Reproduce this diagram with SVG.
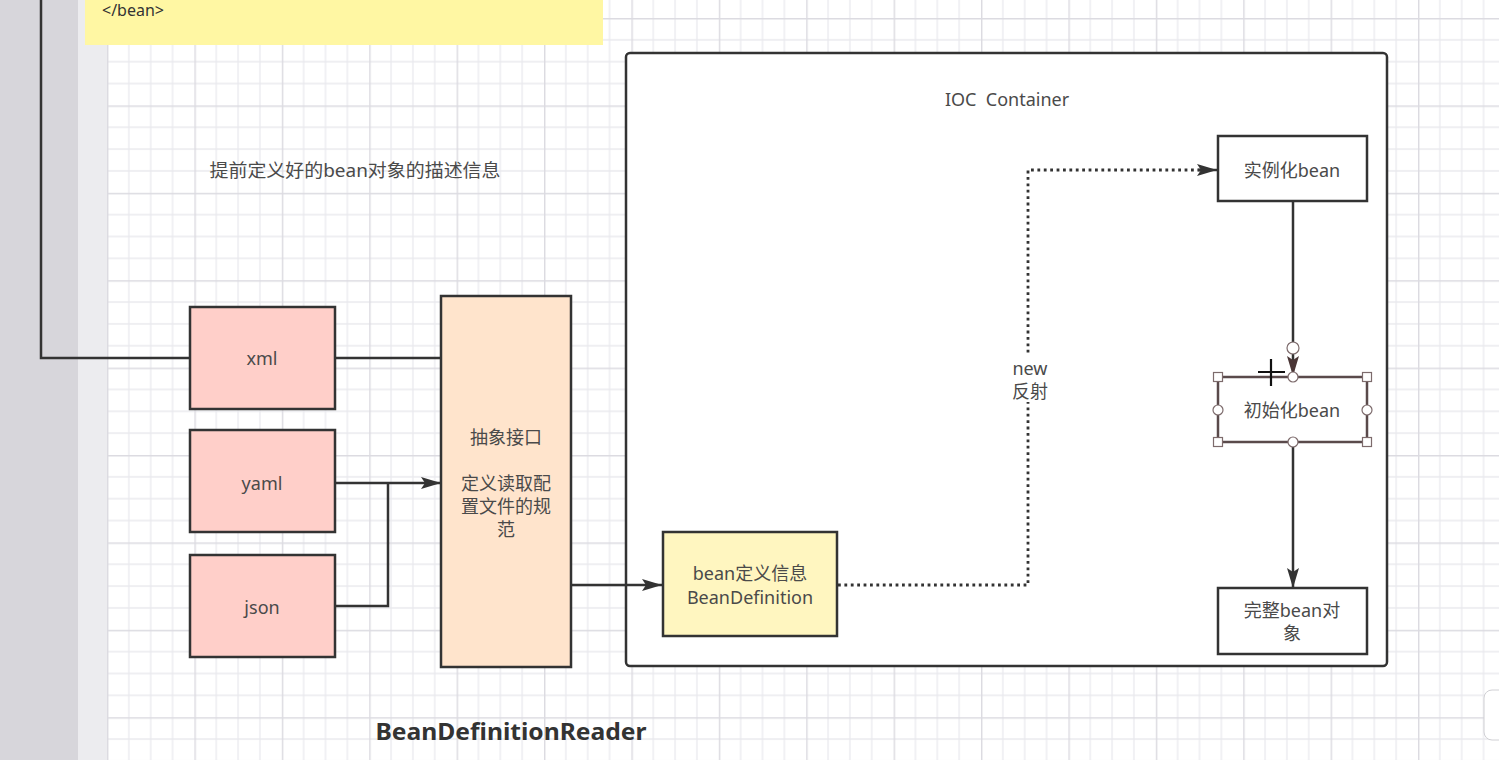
<svg xmlns="http://www.w3.org/2000/svg" width="1499" height="760" viewBox="0 0 1499 760">
<style>
.t{font-family:"Noto Sans","Noto Sans CJK SC",sans-serif;font-size:18px;fill:#4a4a4a;text-anchor:middle;dominant-baseline:central}
.box{stroke:#333;stroke-width:2.5}
.ln{fill:none;stroke:#333;stroke-width:2.5}
.dot{fill:none;stroke:#333;stroke-width:2.8;stroke-dasharray:2.8 3.6}
.hs{fill:#fff;stroke:#7d6b6c;stroke-width:1.2}
</style>
<defs>
<pattern id="g" x="107" y="18" width="87.4" height="87.4" patternUnits="userSpaceOnUse">
<path d="M21.85 0V87.4M43.7 0V87.4M65.55 0V87.4M0 21.85H87.4M0 43.7H87.4M0 65.55H87.4" stroke="#eaeaee" stroke-width="1.3" fill="none"/>
<path d="M0.7 0V87.4M0 0.7H87.4" stroke="#dcdbe1" stroke-width="1.5" fill="none"/>
</pattern>
<marker id="a" markerUnits="userSpaceOnUse" markerWidth="20" markerHeight="14" viewBox="0 0 20 14" refX="20" refY="7" orient="auto">
<path d="M0 1L20 7L0 13L4 7z" fill="#333"/>
</marker>
<marker id="a2" markerUnits="userSpaceOnUse" markerWidth="20" markerHeight="14" viewBox="0 0 20 14" refX="20" refY="7" orient="auto">
<path d="M0 1L20 7L0 13L4 7z" fill="#4a3636"/>
</marker>
</defs>
<rect width="1499" height="760" fill="#fff"/>
<rect x="107" y="0" width="1392" height="760" fill="url(#g)"/>
<rect x="0" y="0" width="78" height="760" fill="#d7d6db"/>
<rect x="78" y="0" width="29" height="760" fill="#ececef"/>
<g id="note">
<rect x="85" y="-5" width="518" height="50" fill="#fff7a3"/>
<text x="102" y="10" class="t" style="text-anchor:start;fill:#333;font-size:16px">&lt;/bean&gt;</text>
</g>
<g id="desc"><text x="355" y="170" class="t" textLength="291" lengthAdjust="spacingAndGlyphs">提前定义好的bean对象的描述信息</text></g>
<g id="reader-label"><text x="511" y="731" class="t" style="font-size:23px;font-weight:bold;fill:#333" textLength="271" lengthAdjust="spacingAndGlyphs">BeanDefinitionReader</text></g>
<g id="ioc">
<rect x="626" y="53" width="761" height="613" rx="4" fill="#fff" class="box"/>
<text x="1007" y="99" class="t" xml:space="preserve">IOC  Container</text>
</g>
<g id="connectors">
<path class="ln" d="M41 0V358H190"/>
<path class="ln" d="M335 358H441"/>
<path class="ln" d="M335 483H441" marker-end="url(#a)"/>
<path class="ln" d="M335 606H388V483"/>
<path class="ln" d="M571 585H662" marker-end="url(#a)"/>
<path class="dot" d="M838 585H1028V170H1200"/>
<path class="ln" d="M1198 170H1217" marker-end="url(#a)"/>
<path class="ln" d="M1293 201V376" marker-end="url(#a2)"/>
<path class="ln" d="M1293 442V588" marker-end="url(#a)"/>
<rect x="1008" y="356" width="44" height="46" fill="#fff"/>
<text x="1030" y="368" class="t">new</text>
<text x="1030" y="391" class="t">反射</text>
</g>
<g id="xml"><rect x="190" y="307" width="145" height="102" fill="#ffcfc9" class="box"/><text x="262" y="358" class="t">xml</text></g>
<g id="yaml"><rect x="190" y="430" width="145" height="102" fill="#ffcfc9" class="box"/><text x="262" y="483" class="t">yaml</text></g>
<g id="json"><rect x="190" y="555" width="145" height="102" fill="#ffcfc9" class="box"/><text x="262" y="607" class="t">json</text></g>
<g id="reader">
<rect x="441" y="296" width="130" height="371" fill="#ffe4cc" class="box"/>
<text x="506" y="437" class="t">抽象接口</text>
<text x="506" y="483" class="t">定义读取配</text>
<text x="506" y="506" class="t">置文件的规</text>
<text x="506" y="529" class="t">范</text>
</g>
<g id="beandef">
<rect x="663" y="532" width="174" height="104" fill="#fff6c0" class="box"/>
<text x="750" y="573" class="t">bean定义信息</text>
<text x="750" y="597" class="t">BeanDefinition</text>
</g>
<g id="inst"><rect x="1218" y="136" width="149" height="65" fill="#fff" class="box"/><text x="1292" y="170" class="t">实例化bean</text></g>
<g id="init">
<rect x="1218" y="377" width="149" height="65" fill="#fff" stroke="#5a4a4b" stroke-width="2.5"/>
<text x="1292" y="410" class="t">初始化bean</text>
<rect x="1213.5" y="372.5" width="9" height="9" class="hs"/>
<rect x="1362.5" y="372.5" width="9" height="9" class="hs"/>
<rect x="1213.5" y="437.5" width="9" height="9" class="hs"/>
<rect x="1362.5" y="437.5" width="9" height="9" class="hs"/>
<circle cx="1293" cy="377" r="5" class="hs"/>
<circle cx="1218" cy="410" r="5" class="hs"/>
<circle cx="1367" cy="410" r="5" class="hs"/>
<circle cx="1293" cy="442" r="5" class="hs"/>
<circle cx="1293" cy="348" r="6" class="hs"/>
<path d="M1258 372H1285M1271 359V386" stroke="#111" stroke-width="2.2"/>
</g>
<g id="full">
<rect x="1218" y="588" width="149" height="66" fill="#fff" class="box"/>
<text x="1292" y="610" class="t">完整bean对</text>
<text x="1292" y="633" class="t">象</text>
</g>
<rect x="1484" y="690" width="30" height="50" rx="8" fill="#fff" stroke="#d0d0d4" stroke-width="1"/>
</svg>
